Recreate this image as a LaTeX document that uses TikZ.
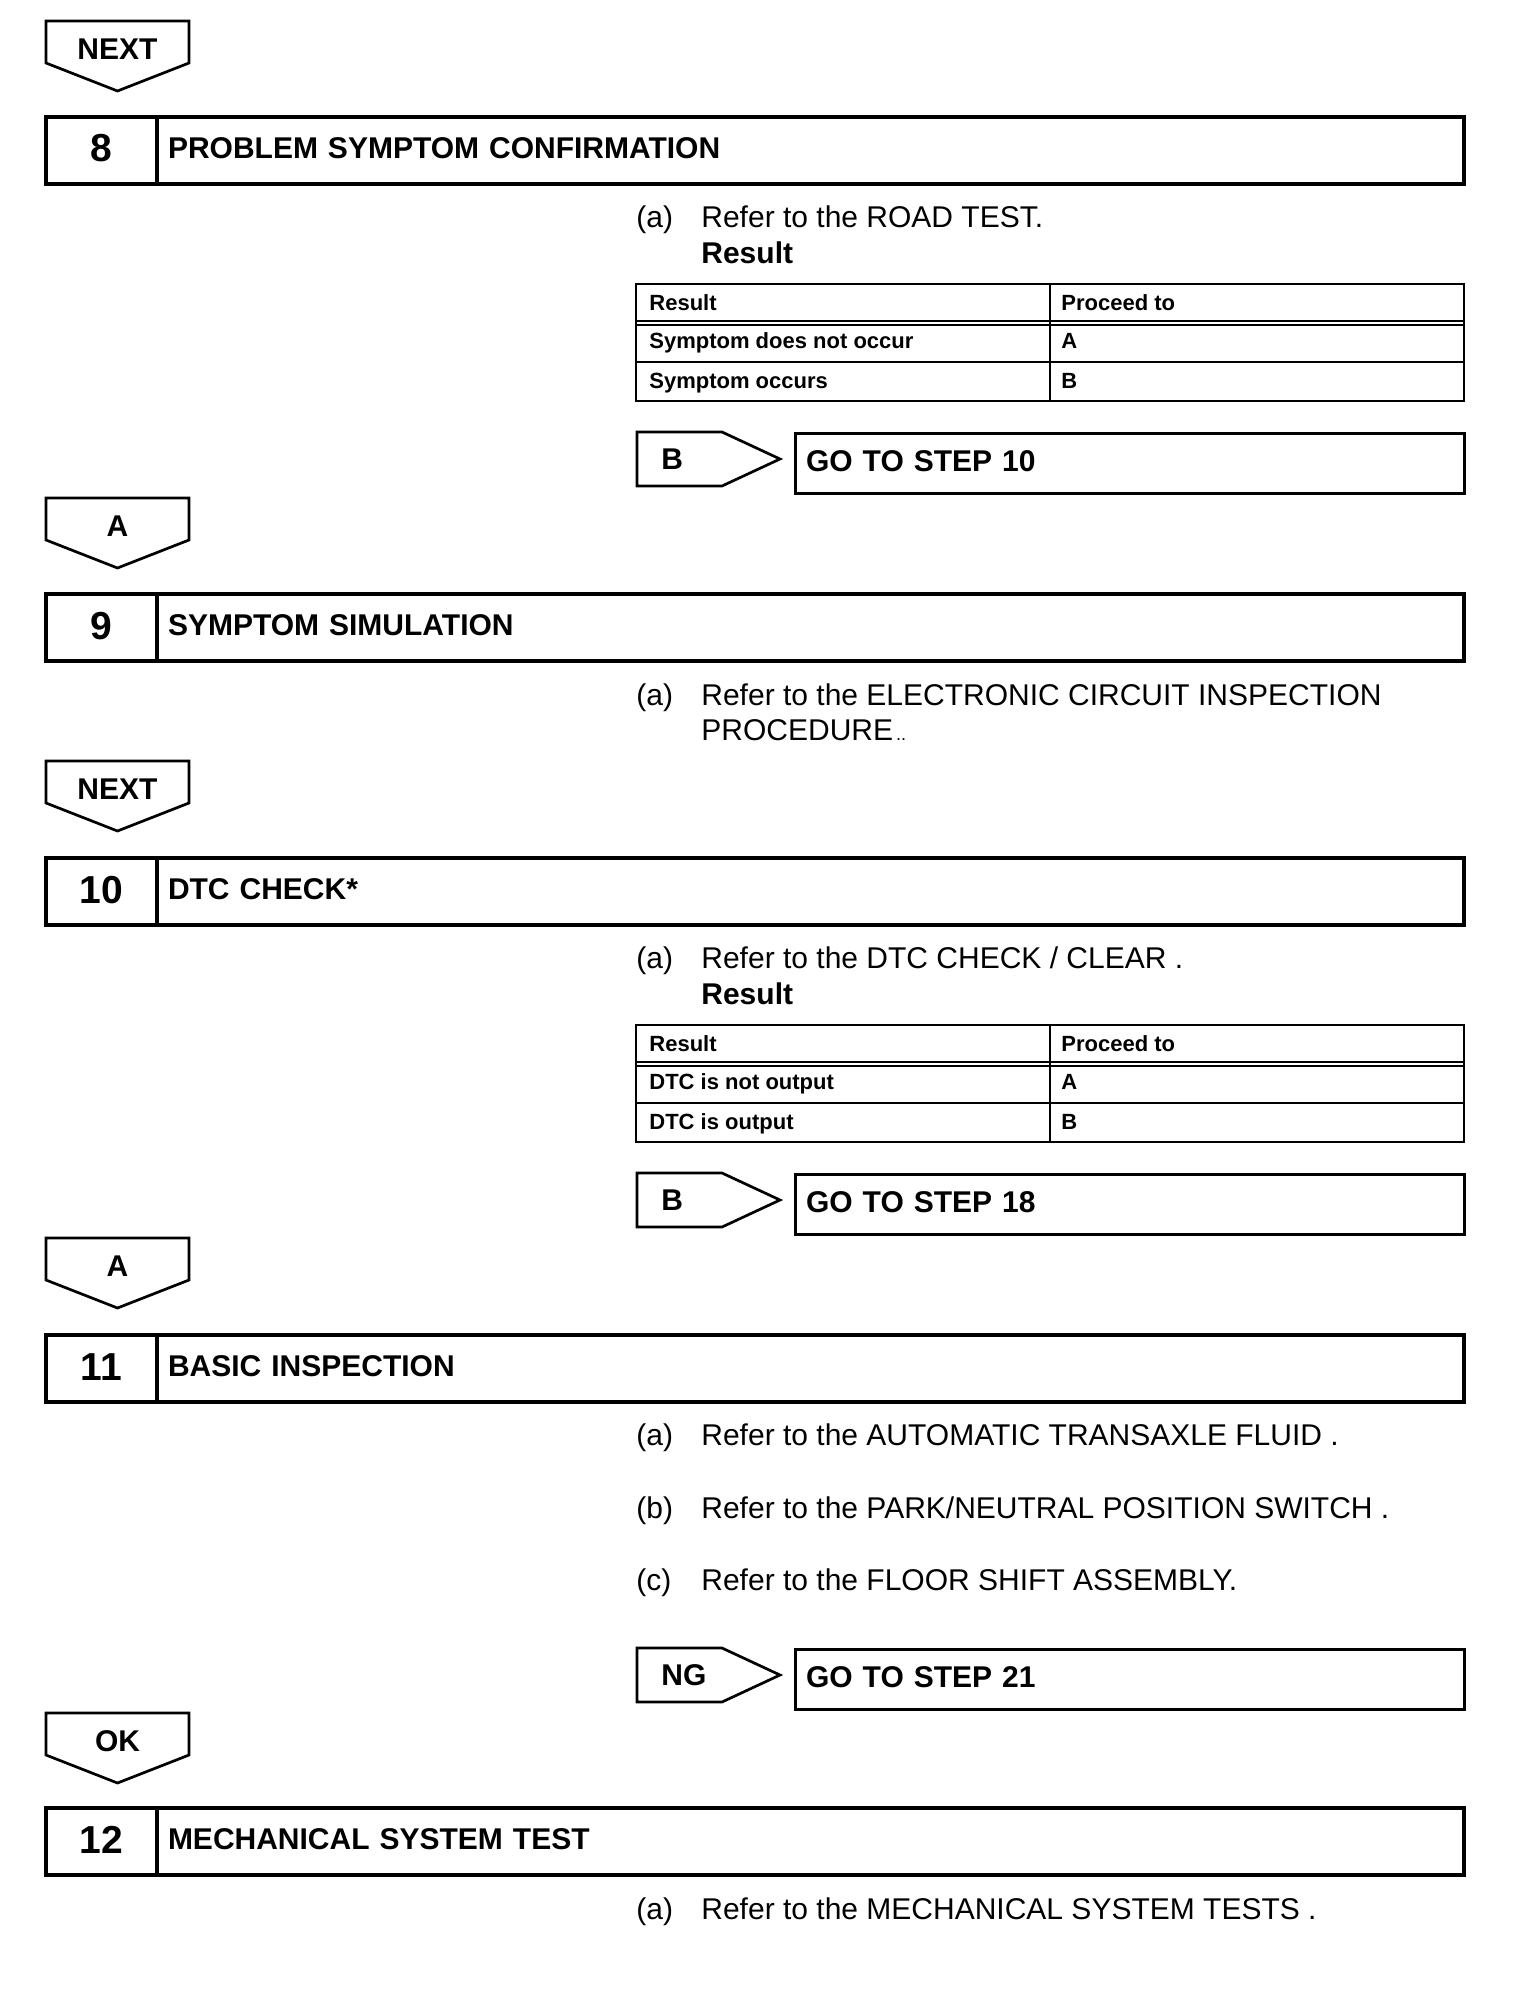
\documentclass[tikz,border=0pt]{standalone}
\usepackage{fontspec}
\setmainfont{Liberation Sans}
\usetikzlibrary{positioning}

\begin{document}
\begin{tikzpicture}[
  x=0.5pt, y=-0.5pt,
  font=\fontsize{15pt}{18pt}\selectfont,
  stepnum/.style={
    rectangle,
    draw=black,
    line width=1.65pt,
    outer sep=0pt,
    inner sep=0pt,
    minimum width=55.5pt,
    minimum height=33.5pt,
    text height=14pt,
    text depth=2.5pt,
    font=\bfseries\fontsize{19.5pt}{20pt}\selectfont,
  },
  steptitle/.style={
    rectangle,
    draw=black,
    line width=1.65pt,
    outer sep=0pt,
    inner xsep=5.5pt,
    inner ysep=0pt,
    text width=642.5pt,
    text height=10.7pt,
    text depth=2.5pt,
    minimum height=33.5pt,
    align=left,
    font=\bfseries\fontsize{15pt}{18pt}\selectfont,
  },
  gobox/.style={
    rectangle,
    draw=black,
    line width=1.5pt,
    outer sep=0pt,
    inner xsep=5.5pt,
    inner ysep=0pt,
    text width=323.5pt,
    text height=10.7pt,
    text depth=2.5pt,
    minimum height=30pt,
    align=left,
    font=\bfseries\fontsize{15pt}{18pt}\selectfont,
  },
  tag/.style={draw=black, line width=1.35pt, line join=miter},
  taglbl/.style={inner sep=0pt, font=\bfseries\fontsize{15pt}{18pt}\selectfont},
  txt/.style={anchor=base west, inner sep=0pt},
  cell/.style={anchor=base west, inner sep=0pt, font=\bfseries\fontsize{11pt}{13pt}\selectfont},
  tabline/.style={draw=black, line width=1pt},
]
  \useasboundingbox (0,0) rectangle (1536,1996);

  % --- Down tags (NEXT / A / OK) ---
  \foreach \nm/\lbl/\ty in {next8/NEXT/21, a9/A/498, next10/NEXT/761, a11/A/1238, ok12/OK/1713} {
    \draw[tag] (46,\ty) -- (189,\ty) -- (189,\ty+42) -- (117.5,\ty+70) -- (46,\ty+42) -- cycle;
    \node[taglbl] (\nm) at (117.5,\ty+28) {\lbl};
  }

  % --- Side tags with GO TO boxes ---
  \foreach \nm/\lbl/\ty/\go in {b8/B/432/10, b10/B/1173/18, ng11/NG/1648/21} {
    \draw[tag] (637,\ty) -- (722,\ty) -- (780,\ty+27) -- (722,\ty+54) -- (637,\ty+54) -- cycle;
    \node[taglbl, anchor=west] (\nm) at (661,\ty+27) {\lbl};
    \node[gobox] (go\nm) at (1129.5,\ty+31) {GO TO STEP \go};
  }

  % --- Step 8 ---
  \node[stepnum] (n8) at (101.5,150.5) {8};
  \node[steptitle, right=0pt of n8] (t8) {PROBLEM SYMPTOM CONFIRMATION};
  \node[txt] (a8) at (636,227) {(a)};
  \node[txt] (ref8) at (701,227) {Refer to the ROAD TEST.};
  \node[txt, font=\bfseries\fontsize{15pt}{18pt}\selectfont] (res8) at (701,263) {Result};

  \draw[tabline] (636,284) rectangle (1464,401);
  \draw[tabline] (1050,284) -- (1050,401);
  \draw[tabline] (636,321) -- (1464,321) (636,325) -- (1464,325) (636,362) -- (1464,362);
  \node[cell] (h8a) at (649,310) {Result};
  \node[cell] (h8b) at (1061,310) {Proceed to};
  \node[cell] (r8a) at (649,348) {Symptom does not occur};
  \node[cell] (r8b) at (1061,348) {A};
  \node[cell] (s8a) at (649,388) {Symptom occurs};
  \node[cell] (s8b) at (1061,388) {B};

  % --- Step 9 ---
  \node[stepnum] (n9) at (101.5,627.5) {9};
  \node[steptitle, right=0pt of n9] (t9) {SYMPTOM SIMULATION};
  \node[txt] (a9t) at (636,705) {(a)};
  \node[txt] (ref9) at (701,705) {Refer to the ELECTRONIC CIRCUIT INSPECTION};
  \node[txt] (ref9b) at (701,740) {PROCEDURE{\fontsize{9pt}{9pt}\selectfont\,..}};

  % --- Step 10 ---
  \node[stepnum] (n10) at (101.5,891.5) {10};
  \node[steptitle, right=0pt of n10] (t10) {DTC CHECK*};
  \node[txt] (a10) at (636,968) {(a)};
  \node[txt] (ref10) at (701,968) {Refer to the DTC CHECK / CLEAR .};
  \node[txt, font=\bfseries\fontsize{15pt}{18pt}\selectfont] (res10) at (701,1004) {Result};

  \draw[tabline] (636,1025) rectangle (1464,1142);
  \draw[tabline] (1050,1025) -- (1050,1142);
  \draw[tabline] (636,1062) -- (1464,1062) (636,1066) -- (1464,1066) (636,1103) -- (1464,1103);
  \node[cell] (h10a) at (649,1051) {Result};
  \node[cell] (h10b) at (1061,1051) {Proceed to};
  \node[cell] (r10a) at (649,1089) {DTC is not output};
  \node[cell] (r10b) at (1061,1089) {A};
  \node[cell] (s10a) at (649,1129) {DTC is output};
  \node[cell] (s10b) at (1061,1129) {B};

  % --- Step 11 ---
  \node[stepnum] (n11) at (101.5,1368.5) {11};
  \node[steptitle, right=0pt of n11] (t11) {BASIC INSPECTION};
  \node[txt] (a11t) at (636,1445) {(a)};
  \node[txt] (ref11a) at (701,1445) {Refer to the AUTOMATIC TRANSAXLE FLUID .};
  \node[txt] (b11t) at (636,1518) {(b)};
  \node[txt] (ref11b) at (701,1518) {Refer to the PARK/NEUTRAL POSITION SWITCH .};
  \node[txt] (c11t) at (636,1590) {(c)};
  \node[txt] (ref11c) at (701,1590) {Refer to the FLOOR SHIFT ASSEMBLY.};

  % --- Step 12 ---
  \node[stepnum] (n12) at (101.5,1841.5) {12};
  \node[steptitle, right=0pt of n12] (t12) {MECHANICAL SYSTEM TEST};
  \node[txt] (a12) at (636,1919) {(a)};
  \node[txt] (ref12) at (701,1919) {Refer to the MECHANICAL SYSTEM TESTS .};

\end{tikzpicture}
\end{document}
